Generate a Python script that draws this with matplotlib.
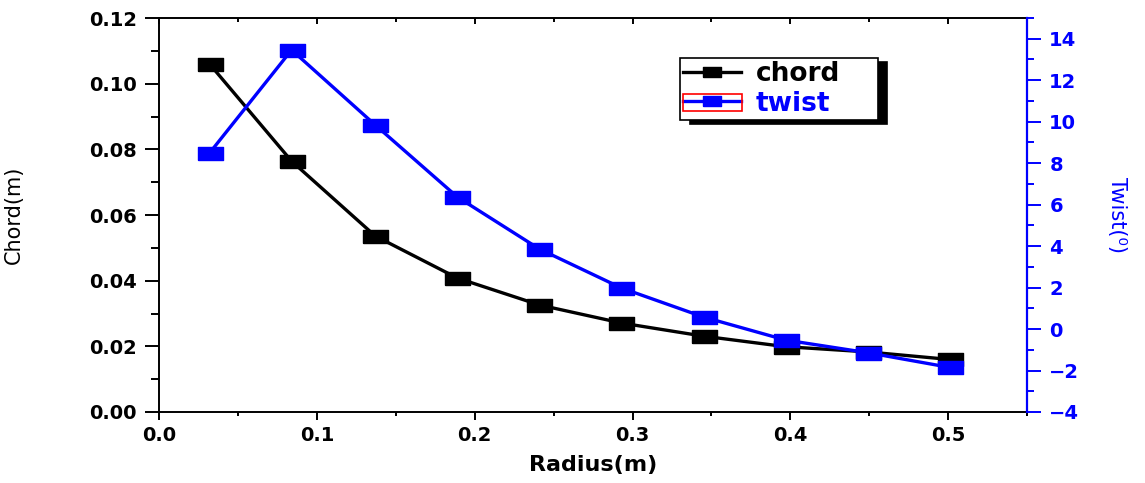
import numpy as np
import matplotlib
matplotlib.use("Agg")
import matplotlib.pyplot as plt
from matplotlib.ticker import MultipleLocator
from matplotlib.patches import Rectangle

# data
radius = [0.032, 0.084, 0.137, 0.189, 0.241, 0.293, 0.345, 0.397, 0.449, 0.501]
chord = [0.1060, 0.0764, 0.0536, 0.0408, 0.0326, 0.0271, 0.0231, 0.0199, 0.0183, 0.0160]
twist = [8.49, 13.46, 9.84, 6.37, 3.86, 1.98, 0.58, -0.53, -1.14, -1.85]

plt.rcParams['font.family'] = 'DejaVu Sans'

# wide square marker (the original picture is stretched horizontally)
box = [(-1, -0.52), (1, -0.52), (1, 0.52), (-1, 0.52), (-1, -0.52)]

fig = plt.figure(figsize=(11.45, 4.83), dpi=100)
ax = fig.add_axes([0.1389, 0.147, 0.7581, 0.8157])
ax2 = ax.twinx()

l1, = ax.plot(radius, chord, color='black', lw=2.4, marker=box, ms=18,
              label='chord', zorder=3)
l2, = ax2.plot(radius, twist, color='#0000ff', lw=2.4, marker=box, ms=18,
               label='twist', zorder=4)

ax.set_xlim(0, 0.55)
ax.set_ylim(0, 0.12)
ax2.set_ylim(-4, 15)

ax.xaxis.set_major_locator(MultipleLocator(0.1))
ax.xaxis.set_minor_locator(MultipleLocator(0.05))
ax.yaxis.set_major_locator(MultipleLocator(0.02))
ax.yaxis.set_minor_locator(MultipleLocator(0.01))
ax2.yaxis.set_major_locator(MultipleLocator(2))
ax2.yaxis.set_minor_locator(MultipleLocator(1))
ax2.set_yticks(np.arange(-4, 15, 2))

ax.xaxis.set_major_formatter(plt.FormatStrFormatter('%.1f'))
ax.yaxis.set_major_formatter(plt.FormatStrFormatter('%.2f'))

for sp in ax.spines.values():
    sp.set_linewidth(1.4)
ax2.spines['right'].set_color('#0000ff')
ax2.spines['right'].set_linewidth(1.6)
for s in ['left', 'top', 'bottom']:
    ax2.spines[s].set_visible(False)

ax.tick_params(axis='y', which='major', direction='out', length=10, width=1.4,
               labelsize=14, pad=6, right=False)
ax.tick_params(axis='y', which='minor', direction='out', length=5.5, width=1.4,
               right=False)
ax.tick_params(axis='x', which='major', direction='out', length=6, width=1.4,
               labelsize=14, pad=4, top=True)
ax.tick_params(axis='x', which='minor', direction='out', length=3, width=1.4,
               top=True)
ax2.tick_params(axis='y', which='major', direction='out', length=10, width=1.4,
                colors='#0000ff', labelsize=14, pad=6)
ax2.tick_params(axis='y', which='minor', direction='out', length=5, width=1.4,
                colors='#0000ff')

# top ticks point inward and are short
for t in ax.xaxis.get_major_ticks():
    t.tick2line.set_marker(3)
    t.tick2line.set_markersize(4)
for t in ax.xaxis.get_minor_ticks():
    t.tick2line.set_marker(3)
    t.tick2line.set_markersize(3)

for lab in ax.get_xticklabels() + ax.get_yticklabels() + ax2.get_yticklabels():
    lab.set_fontweight('bold')

ax.set_xlabel('Radius(m)', fontsize=16, fontweight='bold', va='center')
ax.xaxis.set_label_coords(0.5, -0.135)
ax.set_ylabel('Chord(m)', fontsize=15, va='center')
ax.yaxis.set_label_coords(-0.167, 0.5)
ax2.set_ylabel('Twist(⁰)', fontsize=15, color='#0000ff', rotation=270,
               va='center')
ax2.yaxis.set_label_coords(1.104, 0.5)

leg = ax2.legend([l1, l2], ['chord', 'twist'], loc='upper left',
                 bbox_to_anchor=(0.600, 0.5, 0.228, 0.3985), mode='expand',
                 frameon=True, fancybox=False,
                 shadow={'ox': 7, 'oy': -3, 'color': 'black', 'alpha': 1},
                 edgecolor='black', prop={'size': 19, 'weight': 'bold'},
                 handlelength=2.2, handletextpad=0.55, borderpad=0.12,
                 labelspacing=0.13, borderaxespad=0, markerscale=0.7)
leg.get_frame().set_linewidth(1.2)
leg.get_texts()[1].set_color('#0000ff')
leg.set_zorder(10)

# the red selection box around the twist legend handle
fig.patches.append(Rectangle((683 / 1145, 1 - 111 / 483), 59 / 1145, 17 / 483,
                             transform=fig.transFigure, fill=False,
                             edgecolor='red', lw=1.2, zorder=20))

fig.savefig('out.png', dpi=100)
